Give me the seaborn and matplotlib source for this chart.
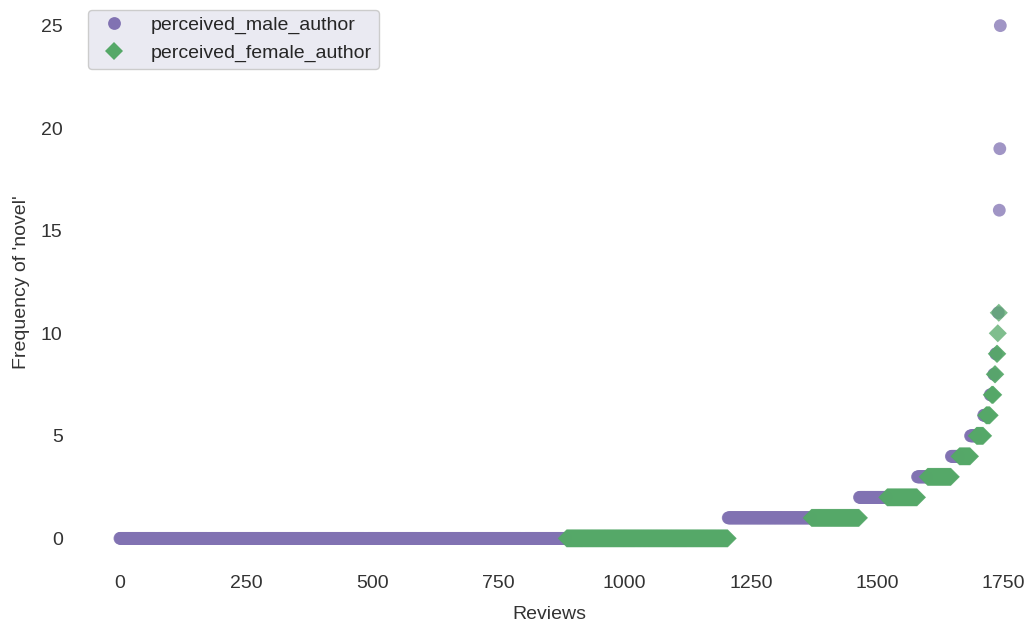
import numpy as np
import pandas as pd
import seaborn as sns
import matplotlib.pyplot as plt

# how many reviews use 'novel' this many times, per perceived author gender
levels = [0, 1, 2, 3, 4, 5, 6, 7, 8, 9, 10, 11, 16, 19, 25]
male_counts = [885, 165, 55, 20, 16, 12, 5, 3, 2, 2, 0, 1, 1, 1, 1]
female_counts = [320, 95, 60, 47, 22, 14, 8, 4, 2, 2, 1, 1, 0, 0, 0]
groups = ["perceived_male_author", "perceived_female_author"]
colors = ["#8172B2", "#55A868"]
xticks = [0, 250, 500, 750, 1000, 1250, 1500, 1750]
yticks = [0, 5, 10, 15, 20, 25]

# reviews sorted by frequency, male before female within a level
freq = []
gender = []
for lv, m, f in zip(levels, male_counts, female_counts):
    freq += [lv] * m + [lv] * f
    gender += [groups[0]] * m + [groups[1]] * f
df = pd.DataFrame({"freq": freq, "gender": gender})
df["review"] = np.arange(len(df))

sns.set_theme(style="white")
plt.rcParams["font.family"] = ["Liberation Sans", "DejaVu Sans"]

fig = plt.figure(figsize=(10.24, 6.25), dpi=100)
ax = fig.add_axes([78 / 1024, 1 - 564 / 625, 942 / 1024, 564 / 625])

sns.scatterplot(data=df, x="review", y="freq", hue="gender", style="gender",
                hue_order=groups, style_order=groups,
                palette=dict(zip(groups, colors)),
                markers={groups[0]: "o", groups[1]: "D"},
                s=85, alpha=0.75, linewidth=0, ax=ax)

ax.set_xlim(-83, 1783)
ax.set_ylim(-1.25, 26.25)
ax.set_xticks(xticks)
ax.set_yticks(yticks)
ax.tick_params(axis="x", labelsize=14, colors="#333333", length=0, pad=8)
ax.tick_params(axis="y", labelsize=14, colors="#333333", length=0, pad=11)
ax.set_xlabel("Reviews", fontsize=14, color="#333333", labelpad=10)
ax.set_ylabel("Frequency of 'novel'", fontsize=14, color="#333333", labelpad=8)
for sp in ax.spines.values():
    sp.set_visible(False)

leg = ax.legend(loc="upper left", fontsize=14, frameon=True,
                facecolor="#EAEAF2", edgecolor="#CCCCCC", framealpha=1,
                borderaxespad=0.5, handletextpad=0.9, borderpad=0.35)
for h in leg.legend_handles:
    h.set_alpha(1)

fig.savefig("out.png", dpi=100)
